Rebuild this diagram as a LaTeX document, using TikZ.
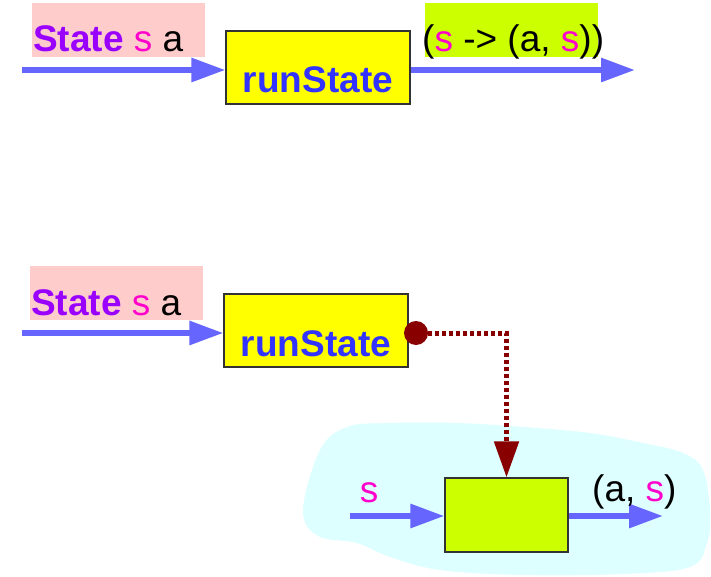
\documentclass[tikz,border=0pt]{standalone}
\usepackage{fontspec}
\setmainfont{Liberation Sans}
\usetikzlibrary{arrows.meta}

\begin{document}
\begin{tikzpicture}[x=1pt,y=1pt,
  bigtext/.style={font=\fontsize{37}{40}\selectfont,inner sep=0},
  runbox/.style={draw=black!80,line width=1.2pt,fill=boxyellow,minimum width=184pt,inner sep=0,
    text height=62pt,text depth=11pt,font=\fontsize{37}{40}\selectfont\bfseries,text=runblue},
  greenbox/.style={draw=black!80,line width=1.2pt,fill=limegreen,minimum width=123pt,minimum height=74pt,inner sep=0},
  flow/.style={draw=arrowblue,line width=6pt,-{Triangle[length=34pt,width=23pt]}},
  pipe/.style={draw=darkred,line width=5pt,dash pattern=on 4pt off 3pt,-{Triangle[length=36pt,width=24pt]}}]
\definecolor{arrowblue}{HTML}{6666FF}
\definecolor{statepurple}{HTML}{9900FF}
\definecolor{smagenta}{HTML}{FF00CC}
\definecolor{runblue}{HTML}{3333FF}
\definecolor{boxyellow}{HTML}{FFFF00}
\definecolor{pinkbg}{HTML}{FFCCCC}
\definecolor{limegreen}{HTML}{CCFF00}
\definecolor{cyanbg}{HTML}{DDFFFF}
\definecolor{darkred}{HTML}{880000}
\useasboundingbox (0,0) rectangle (711,-577);
% cloud behind the inner box
\fill[cyanbg] plot[smooth cycle,tension=0.6] coordinates {(303,-510) (320,-450) (347,-427) (390,-423)
  (457,-423) (523,-427) (590,-433) (643,-443) (683,-453) (703,-470) (710,-510) (707,-543)
  (690,-567) (623,-574) (523,-575) (440,-570) (390,-557) (357,-543) (318,-536)};
% the two runState rows
\foreach \row/\dx/\dy in {top/0/0,bot/-2/-263}
{ \fill[pinkbg] (32+\dx,-3+\dy) rectangle (205+\dx,-57+\dy);
  \node[bigtext,anchor=base west] (lbl\row) at (33+\dx,-52+\dy)
    {\textcolor{statepurple}{\bfseries State} \textcolor{smagenta}{s} a};
  \node[runbox] (run\row) at (318+\dx,-67.5+\dy) {runState};
  \coordinate (in\row) at (22,-70+\dy);
  \draw[flow] (in\row) -- (in\row -| run\row.west);}
% top output
\fill[limegreen] (425,-3) rectangle (598,-57);
\node[bigtext,anchor=base west] (sig) at (422,-52)
  {(\textcolor{smagenta}{s} -> (a, \textcolor{smagenta}{s}))};
\coordinate (outtop) at (635,-70);
\draw[flow] (runtop.east |- outtop) -- (outtop);
% bottom: the function inside
\node[greenbox] (inner) at (506.5,-515) {};
\node[circle,fill=darkred,minimum size=24pt,inner sep=0] (dot) at (416,-333) {};
\draw[pipe] (dot.east) -- (inner.north |- dot.center) -- (inner.north);
\coordinate (sin) at (350,-516);
\coordinate (sout) at (663,-516);
\draw[flow] (sin) -- (sin -| inner.west);
\draw[flow] (inner.east |- sout) -- (sout);
\node[bigtext,anchor=base,text=smagenta] (slbl) at (369,-502) {s};
\node[bigtext,anchor=base west] (pair) at (592,-501) {(a, \textcolor{smagenta}{s})};
\end{tikzpicture}
\end{document}
